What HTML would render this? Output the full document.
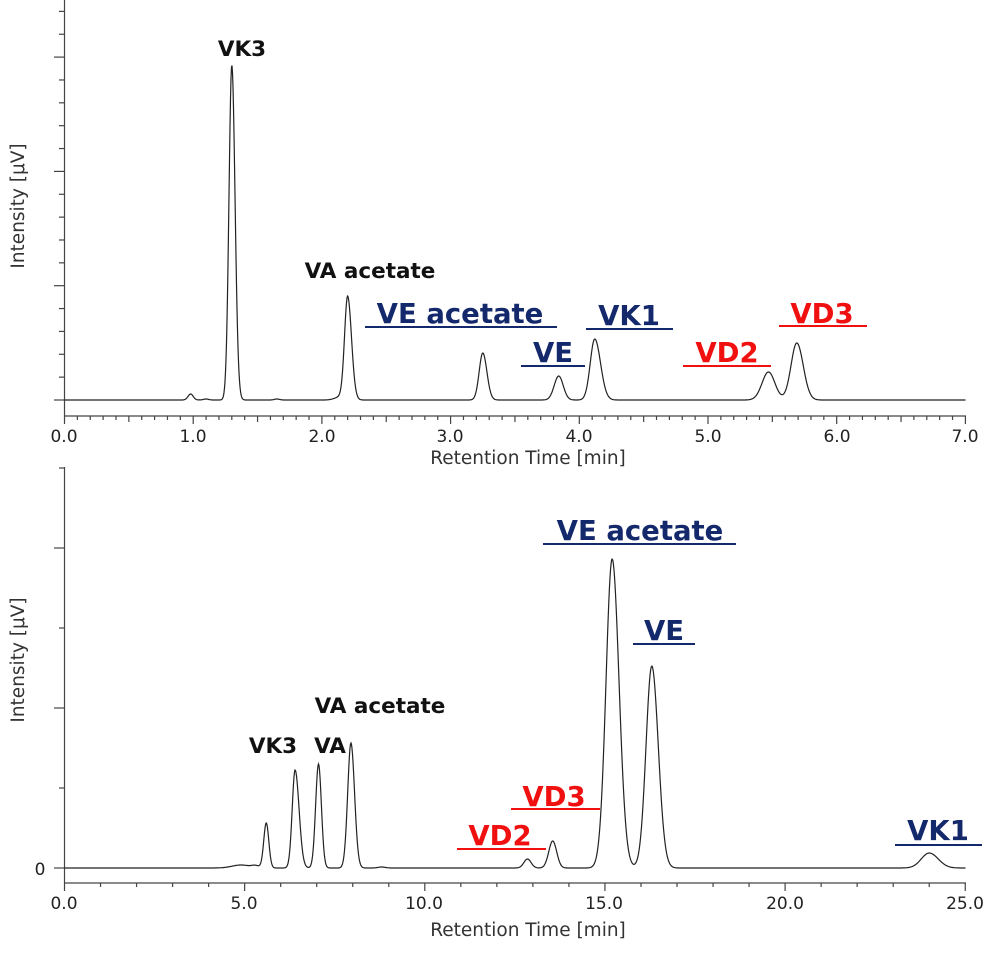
<!DOCTYPE html>
<html><head><meta charset="utf-8"><style>
body{margin:0;background:#fff}
svg{display:block}
text{font-family:"DejaVu Sans","Liberation Sans",sans-serif}
.t{font-size:17px;fill:#222}
.al{font-size:18.5px;fill:#333}
.b{font-weight:bold;font-size:21.5px;fill:#111}
.n{font-weight:bold;font-size:27.5px;fill:#13296b}
.r{font-weight:bold;font-size:27.5px;fill:#f01010}
</style></head><body>
<svg id="s" width="1000" height="955" viewBox="0 0 1000 955" xmlns="http://www.w3.org/2000/svg">
<g stroke="#444" stroke-width="1.2" fill="none" id="ax">
<line x1="64.5" y1="0" x2="64.5" y2="416"/><line x1="64.5" y1="416" x2="966" y2="416"/>
<line x1="64.5" y1="467" x2="64.5" y2="883"/><line x1="64.5" y1="883" x2="966" y2="883"/>
</g>
<path id="p1" stroke="#222" stroke-width="1.2" fill="none"/>
<path id="p2" stroke="#222" stroke-width="1.2" fill="none"/>
<g class="t" text-anchor="middle">
<text x="64" y="442">0.0</text><text x="193" y="442">1.0</text><text x="322" y="442">2.0</text><text x="450" y="442">3.0</text><text x="579" y="442">4.0</text><text x="708" y="442">5.0</text><text x="837" y="442">6.0</text><text x="965" y="442">7.0</text>
<text x="64" y="909">0.0</text><text x="244" y="909">5.0</text><text x="424" y="909">10.0</text><text x="604" y="909">15.0</text><text x="785" y="909">20.0</text><text x="965" y="909">25.0</text>
<text x="40" y="875">0</text>
</g>
<text class="al" x="528" y="464" text-anchor="middle">Retention Time [min]</text>
<text class="al" x="528" y="936" text-anchor="middle">Retention Time [min]</text>
<text class="al" transform="translate(24,206) rotate(-90)" text-anchor="middle">Intensity [μV]</text>
<text class="al" transform="translate(24,660) rotate(-90)" text-anchor="middle">Intensity [μV]</text>
<g text-anchor="middle">
<text class="b" x="242" y="56">VK3</text>
<text class="b" x="370" y="278">VA acetate</text>
<text class="n" x="460" y="323">VE acetate</text>
<text class="n" x="553" y="362">VE</text>
<text class="n" x="629" y="325">VK1</text>
<text class="r" x="727" y="362">VD2</text>
<text class="r" x="822" y="323">VD3</text>
<text class="b" x="273" y="753">VK3</text>
<text class="b" x="330" y="753">VA</text>
<text class="b" x="380" y="713">VA acetate</text>
<text class="n" x="640" y="540">VE acetate</text>
<text class="n" x="664" y="640">VE</text>
<text class="r" x="554" y="806">VD3</text>
<text class="r" x="500" y="845">VD2</text>
<text class="n" x="938" y="840">VK1</text>
</g>
<g stroke-width="2">
<line x1="365" y1="327" x2="557" y2="327" stroke="#13296b"/>
<line x1="521" y1="366" x2="585" y2="366" stroke="#13296b"/>
<line x1="586" y1="329" x2="673" y2="329" stroke="#13296b"/>
<line x1="683" y1="366" x2="771" y2="366" stroke="#f01010"/>
<line x1="779" y1="326" x2="867" y2="326" stroke="#f01010"/>
<line x1="543" y1="544" x2="736" y2="544" stroke="#13296b"/>
<line x1="633" y1="644" x2="695" y2="644" stroke="#13296b"/>
<line x1="511" y1="809" x2="600" y2="809" stroke="#f01010"/>
<line x1="457" y1="849" x2="546" y2="849" stroke="#f01010"/>
<line x1="895" y1="845" x2="982" y2="845" stroke="#13296b"/>
</g>
</svg>
<script>
var ax=document.getElementById('ax'),NS="http://www.w3.org/2000/svg";
function L(x1,y1,x2,y2){var l=document.createElementNS(NS,'line');l.setAttribute('x1',x1);l.setAttribute('y1',y1);l.setAttribute('x2',x2);l.setAttribute('y2',y2);ax.appendChild(l);}
for(var i=0;i<18;i++){var y=400-i*22.86;if(y<5)break;L(i%5==0?54:59,y,64.5,y);}
for(var i=0;i<=70;i++){var x=64.5+i*12.87;L(x,416,x,i%10==0?424:(i%5==0?422:420));}
for(var i=0;i<6;i++){var y=868-i*80;if(y<467)break;L(i%2==0?54:59,y,64.5,y);}
for(var i=0;i<=25;i++){var x=64.5+i*36.03;L(x,883,x,i%5==0?891:887);}
function draw(id,x0,sc,base,pk){var d="";for(var px=0;px<=901;px+=0.5){var t=px/sc,y=base;for(var k=0;k<pk.length;k++){var p=pk[k],s=t<p[0]?p[2]:(p[3]||p[2]);y-=p[1]*Math.exp(-Math.pow((t-p[0])/s,2)/2);}d+=(px?"L":"M")+(x0+px).toFixed(1)+" "+y.toFixed(1);}document.getElementById(id).setAttribute('d',d);}
draw('p1',64.5,128.7,400,[[0.98,6,0.02],[1.1,1,0.02],[1.30,335,0.022,0.025],[1.65,1,0.02],[2.2,103,0.024,0.03],[2.14,3,0.04],[3.25,47,0.028,0.032],[3.84,24,0.035],[4.12,61,0.035,0.045],[5.47,28,0.05],[5.69,57,0.045,0.05]]);
draw('p2',64.5,36.03,868,[[4.9,3,0.25],[5.3,2,0.1],[5.6,45,0.07],[6.4,98,0.08,0.11],[7.05,104,0.08],[7.95,125,0.09,0.1],[8.8,1,0.1],[12.85,9,0.1],[13.55,27,0.11],[15.2,309,0.17,0.19],[16.3,202,0.16,0.18],[24.0,15,0.22,0.25]]);
</script>
</body></html>
